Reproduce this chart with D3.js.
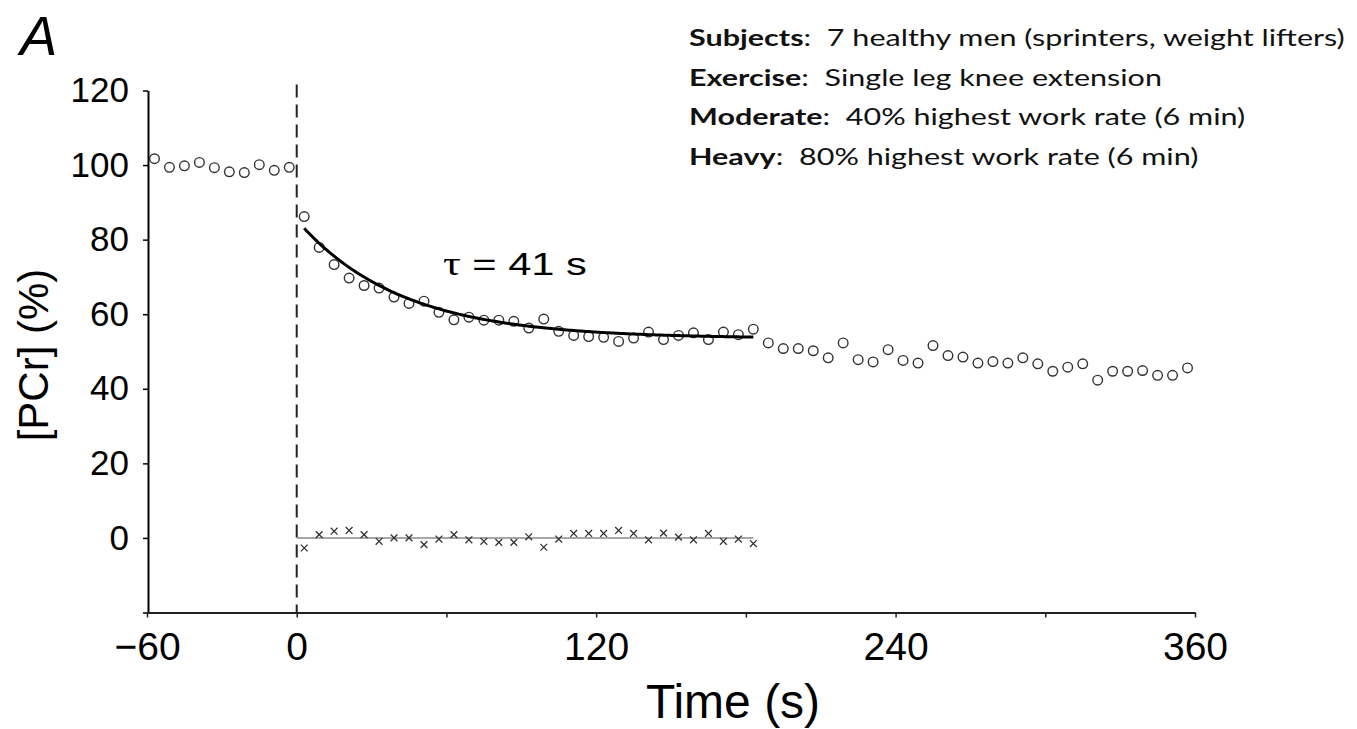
<!DOCTYPE html>
<html>
<head>
<meta charset="utf-8">
<script src="https://cdn.jsdelivr.net/npm/d3@7"></script>
<style>
  html, body { margin: 0; padding: 0; background: #fff; }
  svg { display: block; }
</style>
</head>
<body>
<script>
// PCr recovery kinetics, moderate exercise (single leg knee extension)

// Baseline (pre-exercise) samples
const preTimes  = [-57, -51, -45, -39, -33, -27, -21, -15, -9, -3];
const preValues = [101.7, 99.4, 99.8, 100.7, 99.3, 98.2, 98.0, 100.1, 98.6, 99.4];

// Samples within the fitted window (0–183 s)
const fitTimes  = [3, 9, 15, 21, 27, 33, 39, 45, 51, 57, 63, 69, 75, 81, 87, 93,
                   99, 105, 111, 117, 123, 129, 135, 141, 147, 153, 159, 165, 171, 177, 183];
const fitValues = [86.2, 77.9, 73.3, 69.7, 67.7, 67.0, 64.6, 62.9, 63.5, 60.5, 58.5,
                   59.2, 58.4, 58.4, 58.1, 56.3, 58.7, 55.4, 54.3, 54.0, 53.8, 52.7,
                   53.6, 55.2, 53.2, 54.3, 55.0, 53.2, 55.2, 54.5, 56.0];
// Residuals of the mono-exponential fit
const residuals = [-2.7, 0.9, 1.8, 2.0, 0.9, -0.9, 0.0, 0.0, -1.8, -0.3, 0.9, -0.5,
                   -0.9, -1.2, -1.2, 0.3, -2.5, -0.3, 1.2, 1.2, 1.2, 2.0, 1.2, -0.5,
                   1.3, 0.2, -0.5, 1.2, -0.9, -0.3, -1.5];

// Remaining exercise samples (after the fitting window)
const postTimes  = [189, 195, 201, 207, 213, 219, 225, 231, 237, 243, 249, 255, 261, 267,
                    273, 279, 285, 291, 297, 303, 309, 315, 321, 327, 333, 339, 345, 351, 357];
const postValues = [52.3, 50.8, 50.8, 50.2, 48.3, 52.3, 47.8, 47.2, 50.5, 47.6, 46.9,
                    51.6, 48.9, 48.5, 46.9, 47.3, 46.9, 48.3, 46.7, 44.7, 45.8, 46.7,
                    42.3, 44.7, 44.7, 44.9, 43.6, 43.6, 45.6];

// Fit parameters: baseline + amplitude * exp(-t / tau)
const fitBaseline  = 53.5;
const fitAmplitude = 31.8;
const fitTau       = 41;
const fitWindow    = [3, 183];

// Axis ticks
const xTickValues  = [-60, 0, 60, 120, 180, 240, 300, 360];
const xTickLabeled = [-60, 0, 120, 240, 360];
const yTickValues  = [-20, 0, 20, 40, 60, 80, 100, 120];

// Study description
const infoHeads = ["Subjects", "Exercise", "Moderate", "Heavy"];
const infoTexts = ["7 healthy men (sprinters, weight lifters)",
                   "Single leg knee extension",
                   "40% highest work rate (6 min)",
                   "80% highest work rate (6 min)"];

const W = 1357, H = 729;
const sans = "Arial, 'Liberation Sans', Helvetica, sans-serif";

const svg = d3.select("body").append("svg")
  .attr("width", W).attr("height", H);

const x = d3.scaleLinear().domain([-60, 360]).range([147, 1195]);
const y = d3.scaleLinear().domain([-20, 120]).range([612.5, 90.5]);

// Y axis
const yAxis = svg.append("g")
  .attr("transform", `translate(${x(-60) + 1},0)`)
  .call(d3.axisLeft(y).tickValues(yTickValues).tickSize(5).tickSizeOuter(0)
        .tickPadding(14).tickFormat(d => d < 0 ? "" : d3.format("d")(d)));
yAxis.select(".domain").attr("stroke", "#000").attr("stroke-width", 2);
yAxis.selectAll(".tick line").attr("stroke", "#000").attr("stroke-width", 1.5);
yAxis.selectAll(".tick text")
  .attr("font-family", sans).attr("font-size", 35).attr("fill", "#000");

// X axis
const xAxis = svg.append("g")
  .attr("transform", `translate(0,${y(-20)})`)
  .call(d3.axisBottom(x).tickValues(xTickValues).tickSize(5).tickSizeOuter(0)
        .tickPadding(15).tickFormat(d => xTickLabeled.includes(d) ? d3.format("d")(d) : ""));
xAxis.select(".domain").attr("stroke", "#222").attr("stroke-width", 2.2);
xAxis.selectAll(".tick line").attr("stroke", "#222").attr("stroke-width", 1.5);
xAxis.selectAll(".tick text")
  .attr("font-family", sans).attr("font-size", 39).attr("fill", "#000");

// Exercise onset
svg.append("line")
  .attr("x1", x(0)).attr("x2", x(0))
  .attr("y1", y(120) - 6).attr("y2", y(-20))
  .attr("stroke", "#222").attr("stroke-width", 2)
  .attr("stroke-dasharray", "13,7");

// Residual baseline and residual markers
svg.append("line")
  .attr("x1", x(0)).attr("x2", x(fitWindow[1]))
  .attr("y1", y(0)).attr("y2", y(0))
  .attr("stroke", "#8a8a8a").attr("stroke-width", 1.6);

const cross = 3.4;
const resG = svg.append("g").attr("stroke", "#333").attr("stroke-width", 1.3);
fitTimes.forEach((t, i) => {
  const cx = x(t), cy = y(residuals[i]);
  resG.append("path")
    .attr("d", `M${cx - cross},${cy - cross}L${cx + cross},${cy + cross}M${cx - cross},${cy + cross}L${cx + cross},${cy - cross}`);
});

// PCr samples (open circles)
const allPoints = [
  ...preTimes.map((t, i) => ({ t, v: preValues[i] })),
  ...fitTimes.map((t, i) => ({ t, v: fitValues[i] })),
  ...postTimes.map((t, i) => ({ t, v: postValues[i] }))
];
svg.append("g").selectAll("circle").data(allPoints).join("circle")
  .attr("cx", d => x(d.t)).attr("cy", d => y(d.v)).attr("r", 4.8)
  .attr("fill", "none").attr("stroke", "#333").attr("stroke-width", 1.4);

// Mono-exponential fit
const fitCurve = d3.range(fitWindow[0], fitWindow[1] + 0.5, 1)
  .map(t => ({ t, v: fitBaseline + fitAmplitude * Math.exp(-t / fitTau) }));
svg.append("path").datum(fitCurve)
  .attr("fill", "none").attr("stroke", "#000").attr("stroke-width", 3)
  .attr("d", d3.line().x(d => x(d.t)).y(d => y(d.v)).curve(d3.curveMonotoneX));

// Time constant label
const tauLabel = svg.append("text")
  .attr("transform", "translate(443,275) scale(1.3,1)")
  .attr("font-family", sans).attr("font-size", 32).attr("fill", "#000");
tauLabel.append("tspan").attr("font-family", "'Liberation Serif', 'DejaVu Serif', serif")
  .attr("font-size", 34).text("τ");
tauLabel.append("tspan").text(` = ${fitTau} s`);

// Axis titles
svg.append("text")
  .attr("transform", "translate(48,355) rotate(-90)")
  .attr("text-anchor", "middle")
  .attr("font-family", sans).attr("font-size", 42).attr("fill", "#000")
  .text("[PCr] (%)");

svg.append("text")
  .attr("x", 733).attr("y", 718)
  .attr("text-anchor", "middle")
  .attr("font-family", sans).attr("font-size", 48).attr("fill", "#000")
  .text("Time (s)");

// Panel letter
svg.append("text")
  .attr("x", 20).attr("y", 55)
  .attr("font-family", sans).attr("font-size", 56).attr("font-style", "italic")
  .attr("fill", "#000").text("A");

// Study description block
const info = svg.append("g").attr("font-family", "Lato, 'Open Sans', sans-serif")
  .attr("font-size", 22.5).attr("fill", "#111");
const infoLines = infoHeads.map((h, i) => {
  const t = info.append("text").attr("x", 0).attr("y", 39.7 * i)
    .attr("xml:space", "preserve");
  t.append("tspan").attr("font-weight", "bold").text(h);
  t.append("tspan").text(":\u00a0\u00a0" + infoTexts[i]);
  return t;
});
const natural = infoLines[0].node().getComputedTextLength();
const sx = 656 / natural;
info.attr("transform", `translate(689,46) scale(${sx},1)`);
</script>
</body>
</html>
